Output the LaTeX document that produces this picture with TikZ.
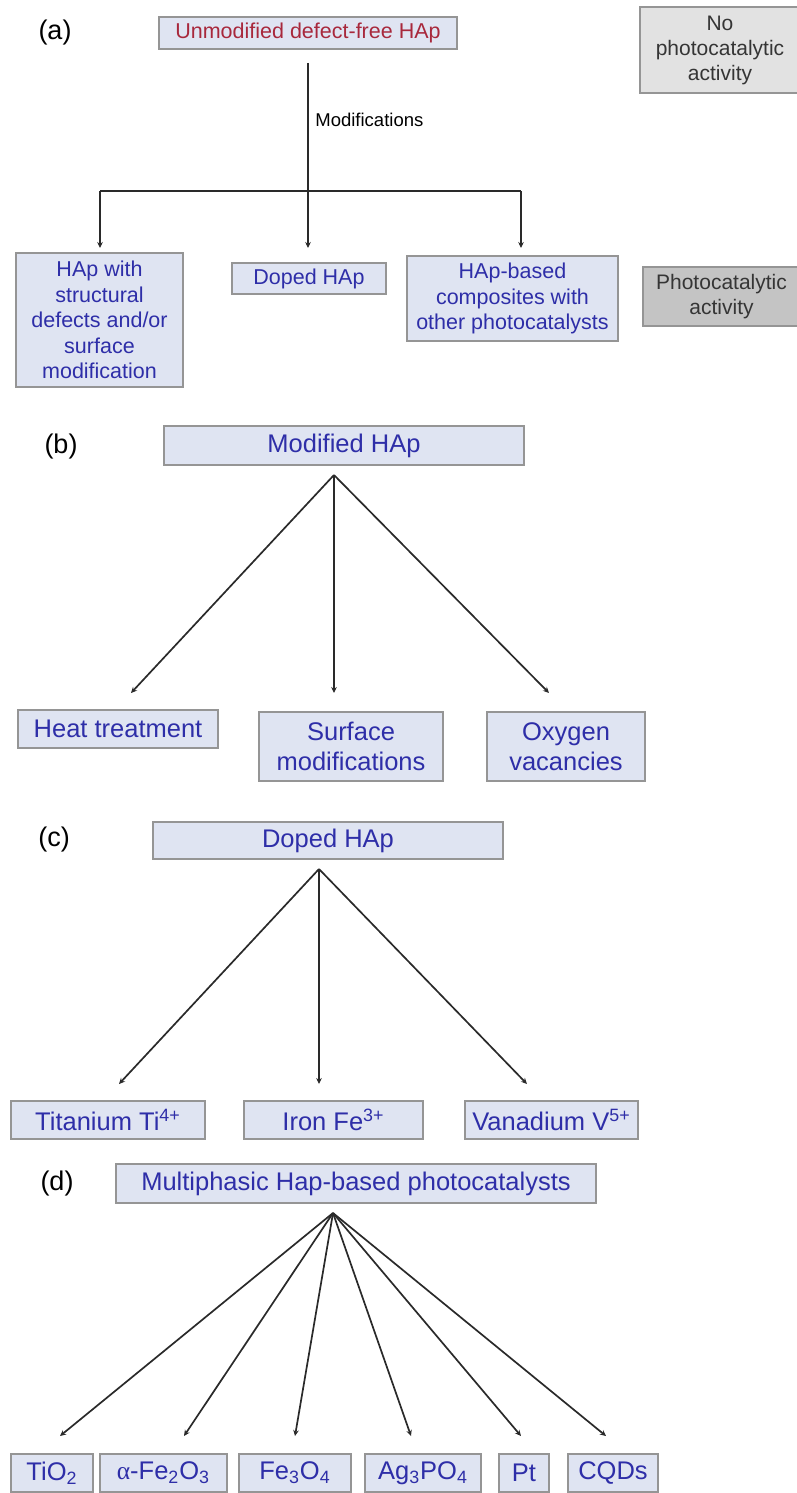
\documentclass[tikz,border=0pt]{standalone}
\usepackage{fontspec}
\setmainfont{Liberation Sans}
\newfontfamily\alphafont{Liberation Serif}
\usetikzlibrary{arrows.meta}

\definecolor{boxfill}{HTML}{DFE4F2}
\definecolor{boxline}{HTML}{959595}
\definecolor{txtblue}{HTML}{2E2EA8}
\definecolor{txtred}{HTML}{A8283C}
\definecolor{greylight}{HTML}{E2E2E2}
\definecolor{greydark}{HTML}{C4C4C4}
\definecolor{greytext}{HTML}{353535}
\definecolor{wire}{HTML}{2A2A2A}

\tikzset{
  box/.style={draw=boxline, line width=0.8pt, fill=boxfill, inner sep=0pt,
    align=center, text=txtblue},
  small/.style={font=\fontsize{10.75pt}{12.75pt}\selectfont},
  big/.style={font=\fontsize{12.75pt}{15pt}\selectfont},
  greybox/.style={draw=boxline, line width=0.8pt, inner sep=0pt, align=center,
    text=greytext, font=\fontsize{10.5pt}{12.5pt}\selectfont},
  panel/.style={font=\fontsize{13.5pt}{16pt}\selectfont, text=black},
  link/.style={draw=wire, line width=0.85pt},
  arrowlink/.style={link, -{Stealth[length=3pt,width=2.8pt]}}
}

\begin{document}
\begin{tikzpicture}[x=0.5pt, y=-0.5pt]
\useasboundingbox (0,0) rectangle (797,1493);

% ---------------- (a) ----------------
\node[panel] (la) at (55,33) {(a)};
\node[box, small, text=txtred, minimum width=149pt, minimum height=16pt] (a0) at (308,33)
  {Unmodified defect-free HAp};
\node[greybox, fill=greylight, minimum width=80pt, minimum height=43pt] (noact) at (720,50)
  {No\\photocatalytic\\activity};

\node[box, small, minimum width=83.5pt, minimum height=67pt] (a1) at (99.5,320)
  {HAp with\\structural\\defects and/or\\surface\\modification};
\node[box, small, minimum width=77pt, minimum height=15.5pt] (a2) at (309,278.5)
  {Doped HAp};
\node[box, small, minimum width=105.5pt, minimum height=42.5pt] (a3) at (512.5,298.5)
  {HAp-based\\composites with\\other photocatalysts};
\node[greybox, fill=greydark, minimum width=78.5pt, minimum height=29.5pt] (act) at (721.5,296.5)
  {Photocatalytic\\activity};

\coordinate (a-top) at (308,63);
\coordinate (a-split) at (308,191);
\coordinate (a-left) at (100,191);
\coordinate (a-right) at (521,191);
\coordinate (a1-in) at (100,248);
\coordinate (a2-in) at (308,248);
\coordinate (a3-in) at (521,248);
\draw[arrowlink] (a-top) -- (a2-in);
\draw[link] (a-left) -- (a-right);
\draw[arrowlink] (a-left) -- (a1-in);
\draw[arrowlink] (a-right) -- (a3-in);
\node[anchor=west, font=\fontsize{9.25pt}{11pt}\selectfont, inner sep=0pt] (mods) at (315,120)
  {Modifications};

% ---------------- (b) ----------------
\node[panel] (lb) at (61,447) {(b)};
\node[box, big, minimum width=180pt, minimum height=19.5pt] (b0) at (344,445.5)
  {Modified HAp};
\node[box, big, minimum width=100pt, minimum height=19pt] (b1) at (118,729)
  {Heat treatment};
\node[box, big, minimum width=92pt, minimum height=34.5pt] (b2) at (351,746.5)
  {Surface\\modifications};
\node[box, big, minimum width=79pt, minimum height=34.5pt] (b3) at (566,746.5)
  {Oxygen\\vacancies};
\coordinate (b-apex) at (334,475);
\coordinate (b1-in) at (131,693);
\coordinate (b2-in) at (334,693);
\coordinate (b3-in) at (549,693);
\foreach \t in {b1-in,b2-in,b3-in}
  \draw[arrowlink] (b-apex) -- (\t);

% ---------------- (c) ----------------
\node[panel] (lc) at (54,840) {(c)};
\node[box, big, minimum width=175pt, minimum height=18.5pt] (c0) at (328,840.5)
  {Doped HAp};
\node[box, big, minimum width=97pt, minimum height=19pt] (c1) at (108,1120)
  {Titanium Ti\textsuperscript{4+}};
\node[box, big, minimum width=89.5pt, minimum height=19pt] (c2) at (333.5,1120)
  {Iron Fe\textsuperscript{3+}};
\node[box, big, minimum width=86.5pt, minimum height=19pt] (c3) at (551.5,1120)
  {Vanadium V\textsuperscript{5+}};
\coordinate (c-apex) at (319,869);
\coordinate (c1-in) at (119,1084);
\coordinate (c2-in) at (319,1084);
\coordinate (c3-in) at (527,1084);
\foreach \t in {c1-in,c2-in,c3-in}
  \draw[arrowlink] (c-apex) -- (\t);

% ---------------- (d) ----------------
\node[panel] (ld) at (57,1183) {(d)};
\node[box, big, minimum width=240pt, minimum height=19.5pt] (d0) at (356,1183.5)
  {Multiphasic Hap-based photocatalysts};
\node[box, big, minimum width=41pt, minimum height=19pt] (d1) at (52,1473)
  {TiO\textsubscript{2}};
\node[box, big, minimum width=63.5pt, minimum height=19pt] (d2) at (163.5,1473)
  {{\alphafont α}-Fe\textsubscript{2}O\textsubscript{3}};
\node[box, big, minimum width=56pt, minimum height=19pt] (d3) at (295,1473)
  {Fe\textsubscript{3}O\textsubscript{4}};
\node[box, big, minimum width=58pt, minimum height=19pt] (d4) at (423,1473)
  {Ag\textsubscript{3}PO\textsubscript{4}};
\node[box, big, minimum width=25pt, minimum height=19pt] (d5) at (524,1473)
  {Pt};
\node[box, big, minimum width=45pt, minimum height=19pt] (d6) at (613,1473)
  {CQDs};
\coordinate (d-apex) at (333,1213);
\coordinate (d1-in) at (60,1436);
\coordinate (d2-in) at (184,1436);
\coordinate (d3-in) at (295,1436);
\coordinate (d4-in) at (411,1436);
\coordinate (d5-in) at (521,1436);
\coordinate (d6-in) at (606,1436);
\foreach \t in {d1-in,d2-in,d3-in,d4-in,d5-in,d6-in}
  \draw[arrowlink] (d-apex) -- (\t);
\end{tikzpicture}
\end{document}
